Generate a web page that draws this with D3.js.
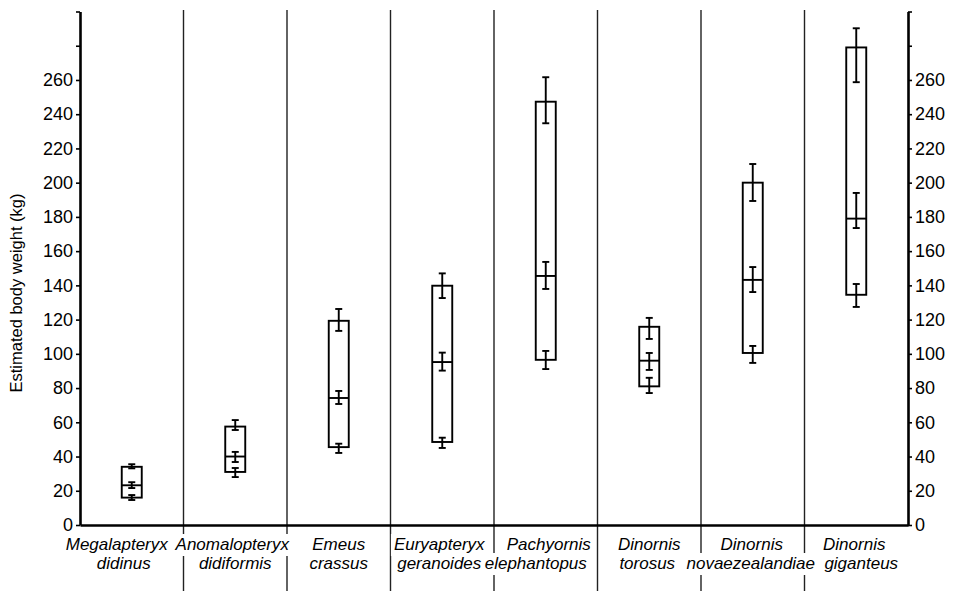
<!DOCTYPE html>
<html>
<head>
<meta charset="utf-8">
<script src="https://cdn.jsdelivr.net/npm/d3@7"></script>
<style>
  body { margin: 0; background: #fff; }
  svg { display: block; font-family: "Liberation Sans", Arial, Helvetica, sans-serif; }
</style>
</head>
<body>
<div id="chart"></div>
<script>
// Species names, two rows each
const genus = ['Megalapteryx', 'Anomalopteryx', 'Emeus', 'Euryapteryx', 'Pachyornis', 'Dinornis', 'Dinornis', 'Dinornis'];
const epithet = ['didinus', 'didiformis', 'crassus', 'geranoides', 'elephantopus', 'torosus', 'novaezealandiae', 'giganteus'];

// Estimated body weight (kg): lower end, middle, upper end of the range
const lowVals = [16, 31, 45.5, 48.5, 96.5, 81, 100.5, 134.5];
const midVals = [23.2, 40, 74.2, 95.2, 145.5, 96, 143.2, 179];
const highVals = [34, 57.5, 119.3, 139.8, 247.3, 115.8, 200, 279];

// Error bars [bottom, top] around each of those values
const lowBars = [[14.6, 17.5], [28, 33.3], [42.1, 47.5], [45, 51], [91.1, 101.7], [77.1, 86], [94.7, 104.6], [127.4, 140.8]];
const midBars = [[21.6, 25], [36.8, 42.7], [70.7, 78.3], [90.2, 100.7], [137.9, 153.7], [90.6, 100.5], [136.1, 150.7], [173.5, 194]];
const highBars = [[33.1, 35.5], [55.5, 61.3], [113.4, 126.2], [132.6, 147], [234.7, 261.6], [108.7, 121], [189.3, 210.9], [258.7, 290.2]];

const yTicks = d3.range(0, 301, 20);
const yLabelMax = 260;

const width = 954, height = 591;
const margin = { top: 11.5, left: 80, right: 46, bottom: 66 };
const innerBottom = height - margin.bottom;   // y of the zero line
const boxWidth = 20;
const capWidth = 7;
// small horizontal nudges of the species labels (px), per row
const labelShift = [
  [-15, -3, 0, -3, 3, 0, -1, -2],
  [-8, 0, 0, -3, -10, -2, -2, 5]
];

const svg = d3.select('#chart')
  .append('svg')
  .attr('width', width)
  .attr('height', height);

const x = d3.scaleBand()
  .domain(genus.map((g, i) => i))
  .range([margin.left, width - margin.right])
  .padding(0);

const y = d3.scaleLinear()
  .domain([0, 300])
  .range([innerBottom, margin.top]);

const cx = i => x(i) + x.bandwidth() / 2;

// Column dividers (run through the label area)
const dividers = svg.append('g').attr('class', 'dividers');
genus.forEach((g, i) => {
  if (i === 0) return;
  dividers.append('line')
    .attr('x1', x(i)).attr('x2', x(i))
    .attr('y1', y(300) - 1.5).attr('y2', height)
    .attr('stroke', '#222')
    .attr('stroke-width', 1.4);
});

// Species labels with white backing that breaks the divider lines
const labels = svg.append('g').attr('class', 'labels')
  .attr('font-style', 'italic')
  .attr('font-size', '17px')
  .attr('text-anchor', 'middle');

const rows = [genus, epithet];
const rowBaselines = [innerBottom + 25, innerBottom + 44];
rows.forEach((row, r) => {
  row.forEach((name, i) => {
    const t = labels.append('text')
      .attr('x', cx(i) + labelShift[r][i])
      .attr('y', rowBaselines[r])
      .attr('fill', '#000')
      .text(name);
    const bb = t.node().getBBox();
    labels.insert('rect', 'text')
      .attr('x', bb.x - 3)
      .attr('y', rowBaselines[r] - 16)
      .attr('width', bb.width + 6)
      .attr('height', 22)
      .attr('fill', '#fff');
  });
});

// Axes
const fmt = d => d <= yLabelMax ? d : '';

const leftAxis = svg.append('g')
  .attr('transform', `translate(${margin.left},0)`)
  .call(d3.axisLeft(y).tickValues(yTicks).tickFormat(fmt).tickSize(4).tickPadding(3).tickSizeOuter(0));

const rightAxis = svg.append('g')
  .attr('transform', `translate(${width - margin.right},0)`)
  .call(d3.axisRight(y).tickValues(yTicks).tickFormat(fmt).tickSize(4).tickPadding(3).tickSizeOuter(0));

[leftAxis, rightAxis].forEach(ax => {
  ax.select('.domain').attr('stroke', '#000').attr('stroke-width', 2.6);
  ax.selectAll('.tick line').attr('stroke', '#000').attr('stroke-width', 1.6);
  ax.selectAll('.tick text')
    .attr('font-size', '18px')
    .attr('fill', '#000')
    .attr('font-family', '"Liberation Sans", Arial, Helvetica, sans-serif');
});

const bottomAxis = svg.append('g')
  .attr('transform', `translate(0,${innerBottom})`)
  .call(d3.axisBottom(x).tickSize(0).tickFormat(''));
bottomAxis.select('.domain').attr('stroke', '#000').attr('stroke-width', 2.6);

// Axis title
svg.append('text')
  .attr('transform', `translate(22,${293}) rotate(-90)`)
  .attr('text-anchor', 'middle')
  .attr('font-size', '16.5px')
  .attr('fill', '#000')
  .text('Estimated body weight (kg)');

// Range boxes
const marks = svg.append('g').attr('class', 'marks')
  .attr('fill', 'none')
  .attr('stroke', '#000')
  .attr('stroke-width', 1.9);

marks.selectAll('rect.range')
  .data(genus.map((g, i) => i))
  .join('rect')
  .attr('class', 'range')
  .attr('x', i => cx(i) - boxWidth / 2)
  .attr('y', i => y(highVals[i]))
  .attr('width', boxWidth)
  .attr('height', i => y(lowVals[i]) - y(highVals[i]));

marks.selectAll('line.mid')
  .data(genus.map((g, i) => i))
  .join('line')
  .attr('class', 'mid')
  .attr('x1', i => cx(i) - boxWidth / 2)
  .attr('x2', i => cx(i) + boxWidth / 2)
  .attr('y1', i => y(midVals[i]))
  .attr('y2', i => y(midVals[i]));

// Error bars
const drawBars = (bars, cls) => {
  const g = marks.append('g').attr('class', cls);
  bars.forEach(([lo, hi], i) => {
    const xc = cx(i);
    g.append('line')
      .attr('x1', xc).attr('x2', xc)
      .attr('y1', y(lo)).attr('y2', y(hi));
    [lo, hi].forEach(v => {
      g.append('line')
        .attr('x1', xc - capWidth / 2).attr('x2', xc + capWidth / 2)
        .attr('y1', y(v)).attr('y2', y(v));
    });
  });
};
drawBars(lowBars, 'bars-low');
drawBars(midBars, 'bars-mid');
drawBars(highBars, 'bars-high');
</script>
</body>
</html>
